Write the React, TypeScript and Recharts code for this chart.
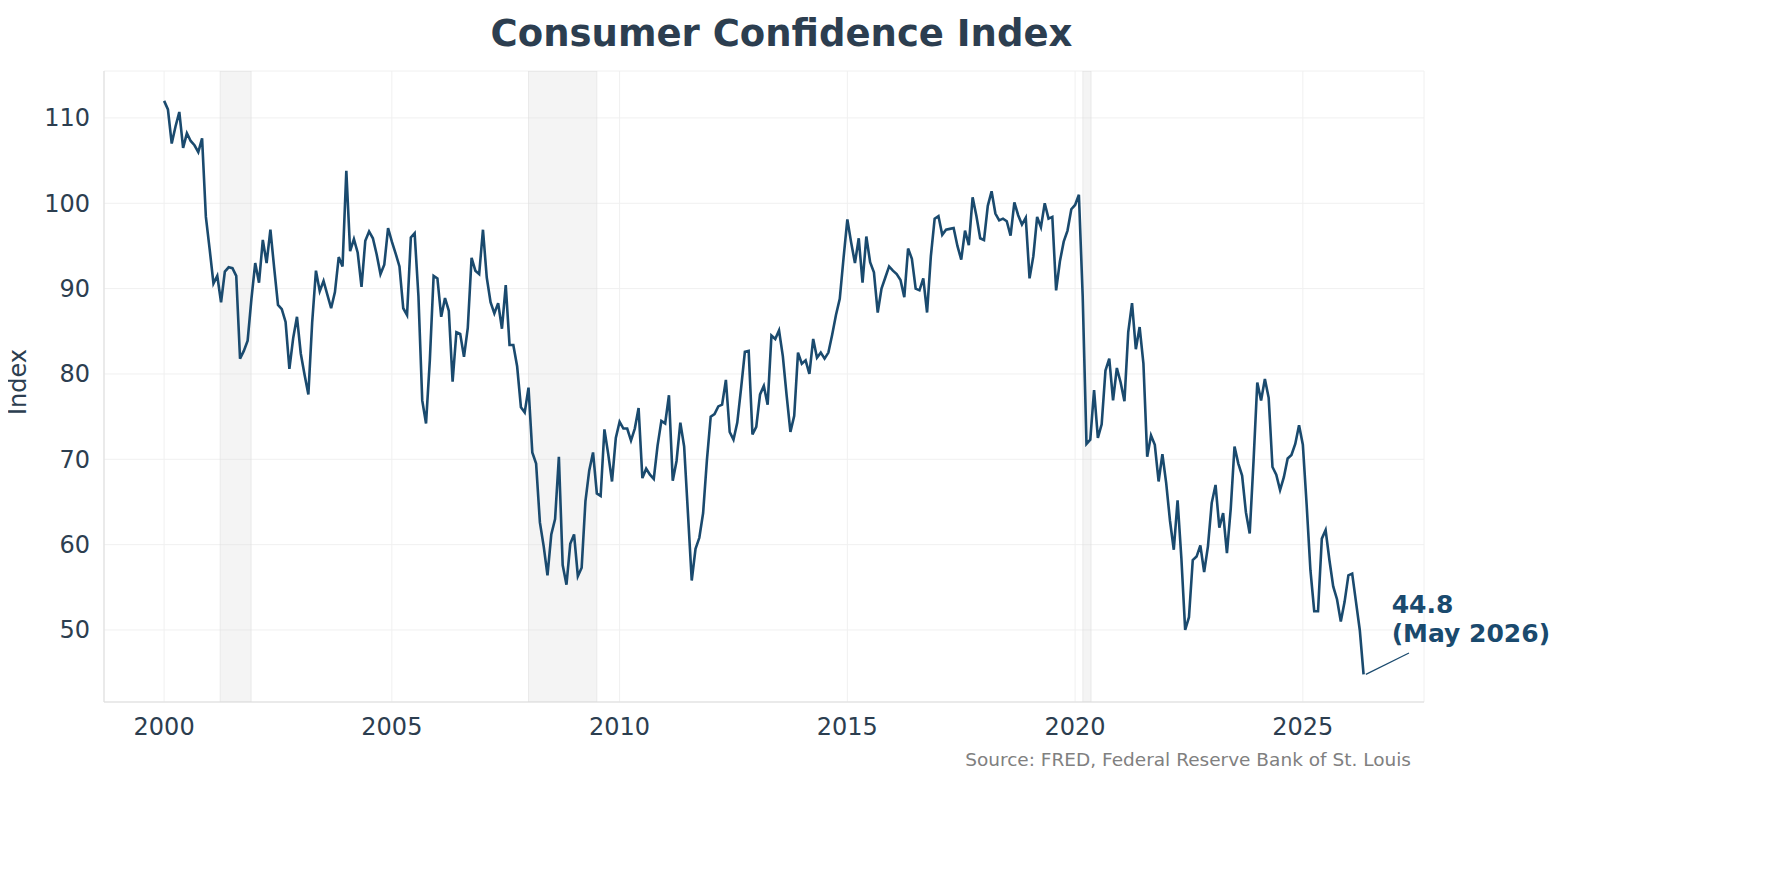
import React from "react";
import { LineChart, Line, XAxis, YAxis, CartesianGrid, ReferenceArea, ReferenceLine, ReferenceDot } from "recharts";

const startYear = 2000;
const values: number[] = [
  112, 111, 107, 109, 110.7, 106.5, 108.2, 107.3, 106.8, 106, 107.6, 98.4,
  94.6, 90.6, 91.5, 88.4, 92, 92.5, 92.4, 91.5, 81.8, 82.7, 83.9, 88.8,
  93, 90.7, 95.7, 93, 96.9, 92.4, 88.1, 87.6, 86.1, 80.6, 84.2, 86.7,
  82.4, 79.9, 77.6, 86, 92.1, 89.7, 90.9, 89.3, 87.7, 89.6, 93.7, 92.6,
  103.8, 94.4, 95.8, 94.2, 90.2, 95.6, 96.7, 95.9, 94, 91.7, 92.8, 97.1,
  95.5, 94.1, 92.6, 87.7, 86.9, 96, 96.5, 89.1, 76.9, 74.2, 81.6, 91.5,
  91.2, 86.7, 88.9, 87.4, 79.1, 84.9, 84.7, 82, 85.4, 93.6, 92.1, 91.7,
  96.9, 91.3, 88.4, 87.1, 88.3, 85.3, 90.4, 83.4, 83.4, 80.9, 76.1, 75.5,
  78.4, 70.8, 69.5, 62.6, 59.8, 56.4, 61.2, 63, 70.3, 57.6, 55.3, 60.1,
  61.2, 56.3, 57.3, 65.1, 68.7, 70.8, 66, 65.7, 73.5, 70.6, 67.4, 72.5,
  74.4, 73.6, 73.6, 72.2, 73.6, 76, 67.8, 68.9, 68.2, 67.7, 71.6, 74.5,
  74.2, 77.5, 67.5, 69.8, 74.3, 71.5, 63.7, 55.8, 59.5, 60.8, 63.7, 69.9,
  75, 75.3, 76.2, 76.4, 79.3, 73.2, 72.3, 74.3, 78.3, 82.6, 82.7, 72.9,
  73.8, 77.6, 78.6, 76.4, 84.5, 84.1, 85.1, 82.1, 77.5, 73.2, 75.1, 82.5,
  81.2, 81.6, 80, 84.1, 81.9, 82.5, 81.8, 82.5, 84.6, 86.9, 88.8, 93.6,
  98.1, 95.4, 93, 95.9, 90.7, 96.1, 93.1, 91.9, 87.2, 90, 91.3, 92.6,
  92.1, 91.7, 91, 89, 94.7, 93.5, 90, 89.8, 91.2, 87.2, 93.8, 98.2,
  98.5, 96.3, 96.9, 97, 97.1, 95, 93.4, 96.8, 95.1, 100.7, 98.5, 95.9,
  95.7, 99.7, 101.4, 98.8, 98, 98.2, 97.9, 96.2, 100.1, 98.6, 97.5, 98.3,
  91.2, 93.8, 98.4, 97.2, 100, 98.2, 98.4, 89.8, 93.2, 95.5, 96.8, 99.3,
  99.8, 101, 89.1, 71.8, 72.3, 78.1, 72.5, 74.1, 80.4, 81.8, 76.9, 80.7,
  79, 76.8, 84.9, 88.3, 82.9, 85.5, 81.2, 70.3, 72.8, 71.7, 67.4, 70.6,
  67.2, 62.8, 59.4, 65.2, 58.4, 50, 51.5, 58.2, 58.6, 59.9, 56.8, 59.8,
  64.9, 67, 62, 63.7, 59, 64.2, 71.5, 69.5, 68.1, 63.8, 61.3, 69.7,
  79, 76.9, 79.4, 77.2, 69.1, 68.2, 66.4, 67.9, 70.1, 70.5, 71.8, 74,
  71.7, 64.7, 57, 52.2, 52.2, 60.7, 61.7, 58.2, 55.1, 53.6, 51, 53.3,
  56.4, 56.6, 53.3, 50, 44.8,
];
const recessions: [number, number][] = [
  [2001.23, 2001.91],
  [2008.0, 2009.5],
  [2020.17, 2020.35],
];
const xTicks = [2000, 2005, 2010, 2015, 2020, 2025];
const yTicks = [50, 60, 70, 80, 90, 100, 110];

const data = values.map((v, i) => ({ t: startYear + i / 12, v }));
const last = data[data.length - 1];

const FONT = "DejaVu Sans, sans-serif";
const DARK = "#2c3e50";
const LINE = "#1a4a6e";

const AnnotationText = (props: any) => {
  const { cx, cy } = props;
  return (
    <text x={cx} y={cy} fill={LINE} fontFamily={FONT} fontWeight="bold" fontSize={25}>
      <tspan x={cx} dy={0}>{last.v.toFixed(1)}</tspan>
      <tspan x={cx} dy={29}>(May 2026)</tspan>
    </text>
  );
};

export default function App() {
  return (
    <div style={{ position: "relative", width: 1763, height: 872, fontFamily: FONT, background: "#fff" }}>
      <div style={{ position: "absolute", left: 0, width: 1547, top: 4, textAlign: "center", fontSize: 37, fontWeight: "bold", color: DARK }}>
        Consumer Confidence Index
      </div>
      <div style={{ position: "absolute", left: 18 - 8 - 40, top: 382 - 8 - 14, width: 80, textAlign: "center", transform: "rotate(-90deg)", fontSize: 24, color: DARK }}>
        Index
      </div>
      <div style={{ position: "absolute", right: 1763 - (1411 - 8), top: 749 - 8, fontSize: 18.5, color: "#808080" }}>
        Source: FRED, Federal Reserve Bank of St. Louis
      </div>
      <LineChart width={1763} height={872} data={data} margin={{ top: 63, right: 347, bottom: 128, left: 36 }}>
        <CartesianGrid stroke="#f0f0f0" strokeWidth={1} />
        {recessions.map(([a, b], i) => (
          <ReferenceArea key={i} x1={a} x2={b} fill="#d9d9d9" fillOpacity={0.3} stroke="#e0e0e0" strokeOpacity={0.6} ifOverflow="hidden" />
        ))}
        <XAxis
          dataKey="t"
          type="number"
          domain={[1998.68, 2027.66]}
          ticks={xTicks}
          height={50}
          tickLine={false}
          axisLine={{ stroke: "#dddddd" }}
          tick={{ fill: DARK, fontSize: 24, fontFamily: FONT }}
          tickMargin={10}
        />
        <YAxis
          type="number"
          domain={[41.56, 115.5]}
          ticks={yTicks}
          width={60}
          tickLine={false}
          axisLine={{ stroke: "#dddddd" }}
          tick={{ fill: DARK, fontSize: 24, fontFamily: FONT }}
          tickMargin={8}
        />
        <Line type="linear" dataKey="v" stroke={LINE} strokeWidth={2.6} dot={false} isAnimationActive={false} />
        <ReferenceLine
          segment={[{ x: last.t + 0.05, y: last.v }, { x: 2027.33, y: 47.3 }]}
          stroke={LINE}
          strokeWidth={1.2}
        />
        <ReferenceDot x={2026.95} y={52} r={0} shape={AnnotationText} />
      </LineChart>
    </div>
  );
}
